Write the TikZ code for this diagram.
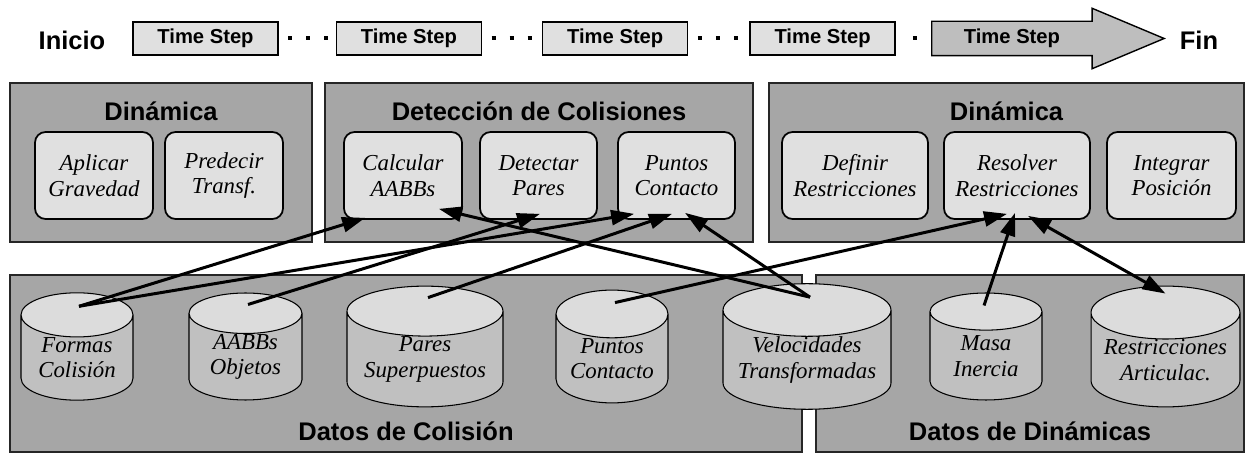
\documentclass[tikz,border=0pt]{standalone}
\usepackage{fontspec}
\setmainfont{Liberation Serif}
\setsansfont{Liberation Sans}
\usetikzlibrary{
  positioning,
  shapes.geometric,
  arrows.meta,
  backgrounds,
  calc
}
\definecolor{panelGray}{HTML}{A6A6A6}
\definecolor{boxGray}{HTML}{E0E0E0}
\definecolor{cylBody}{HTML}{C0C0C0}
\definecolor{cylTop}{HTML}{DCDCDC}
\definecolor{arrowGray}{HTML}{BEBEBE}
\definecolor{edgeDark}{HTML}{262626}
\tikzset{
  titleText/.style={
    font=\sffamily\bfseries\fontsize{14.5}{16}\selectfont, inner sep=0pt
  },
  panel/.style={
    draw=edgeDark, fill=panelGray, line width=0.7pt, inner sep=0pt
  },
  taskBox/.style={
    draw=black, fill=boxGray, rounded corners=6pt, line width=1pt,
    minimum height=1.74cm, align=center, inner sep=0pt,
    font=\itshape\fontsize{13}{14.5}\selectfont
  },
  dataCyl/.style={
    cylinder, shape border rotate=90, draw=black, anchor=shape center,
    line width=0.6pt, cylinder uses custom fill,
    cylinder body fill=cylBody, cylinder end fill=cylTop,
    minimum height=2.14cm, align=center, inner sep=0pt,
    font=\itshape\fontsize{13}{14.5}\selectfont
  },
  stepBox/.style={
    draw=black, fill=boxGray, line width=0.8pt, minimum width=2.9cm,
    minimum height=0.66cm, inner sep=0pt,
    font=\sffamily\bfseries\fontsize{11.5}{13}\selectfont
  },
  stepArrow/.style={
    draw=black, fill=arrowGray, line width=0.8pt, line join=miter
  },
  stepDots/.style={
    line width=0.08cm, dash pattern=on 0.08cm off 0.28cm, dash phase=0.17cm
  },
  flow/.style={
    -{Triangle[length=0.46cm,width=0.3cm]}, line width=0.06cm
  },
  flowBoth/.style={
    {Triangle[length=0.46cm,width=0.3cm]}-{Triangle[length=0.46cm,width=0.3cm]},
    line width=0.06cm
  }
}

\begin{document}
\begin{tikzpicture}[x=0.02cm, y=0.02cm]
\useasboundingbox (0,0) rectangle (1254,453);

% ── TIME LINE ───────────────────────────────────────────────────────
\node[titleText] (inicio) at (72,413) {Inicio};
\node[stepBox] (ts1) at (205.5,414.5) {Time Step};
\node[stepBox, right=1.14cm of ts1] (ts2) {Time Step};
\node[stepBox, right=1.2cm of ts2]  (ts3) {Time Step};
\node[stepBox, right=1.22cm of ts3] (ts4) {Time Step};
\node[stepBox, draw=none, fill=none, minimum width=3.18cm,
      right=0.72cm of ts4] (ts5) {Time Step};
\node[titleText] (fin) at (1199,413) {Fin};

% last step drawn as a big arrow
\begin{scope}[on background layer]
  \draw[stepArrow] (ts5.south west) -- (ts5.north west) -- (ts5.north east)
    -- ++(0,13) -- ($(ts5.east)+(72,0)$) -- ($(ts5.south east)+(0,-13)$)
    -- (ts5.south east) -- cycle;
\end{scope}

\draw[stepDots] (ts1.east) -- (ts2.west);
\draw[stepDots] (ts2.east) -- (ts3.west);
\draw[stepDots] (ts3.east) -- (ts4.west);
\draw[stepDots, dash pattern=on 0.08cm off 0.6cm, dash phase=0.34cm]
  (ts4.east) -- (ts5.west);

% ── PANELS ──────────────────────────────────────────────────────────
\node[panel, minimum width=6.04cm, minimum height=3.18cm] (dyn1) at (161,290.5) {};
\node[panel, minimum width=8.56cm, minimum height=3.18cm] (coll) at (539,290.5) {};
\node[panel, minimum width=9.5cm,  minimum height=3.18cm] (dyn2) at (1006.5,290.5) {};
\node[panel, minimum width=15.84cm, minimum height=3.54cm] (collData) at (406,89.5) {};
\node[panel, minimum width=8.56cm, minimum height=3.54cm] (dynData) at (1030,89.5) {};

\node[titleText] (dyn1Title) at ($(dyn1.north)+(0,-29)$) {Dinámica};
\node[titleText] (collTitle) at ($(coll.north)+(0,-29)$) {Detección de Colisiones};
\node[titleText] (dyn2Title) at ($(dyn2.north)+(0,-29)$) {Dinámica};
\node[titleText] (collDataTitle) at ($(collData.south)+(0,21)$) {Datos de Colisión};
\node[titleText] (dynDataTitle) at ($(dynData.south)+(0,21)$) {Datos de Dinámicas};

% ── TASKS ───────────────────────────────────────────────────────────
\node[taskBox, minimum width=2.36cm] (gravity)  at (94,277.5)    {Aplicar\\Gravedad};
\node[taskBox, minimum width=2.36cm] (predict)  at (224,277.5)   {Predecir\\Transf.};
\node[taskBox, minimum width=2.36cm] (calc)     at (403,277.5)   {Calcular\\AABBs};
\node[taskBox, minimum width=2.34cm] (detect)   at (538.5,277.5) {Detectar\\Pares};
\node[taskBox, minimum width=2.34cm] (contact)  at (676.5,277.5) {Puntos\\Contacto};
\node[taskBox, minimum width=2.92cm] (defRes)   at (855,277.5)   {Definir\\Restricciones};
\node[taskBox, minimum width=2.92cm] (solveRes) at (1017,277.5)  {Resolver\\Restricciones};
\node[taskBox, minimum width=2.58cm] (integ)    at (1171.5,277.5) {Integrar\\Posición};

% ── DATA ────────────────────────────────────────────────────────────
% aspect ~ 64/width so every cap has the same depth
\node[dataCyl, minimum width=2.24cm, aspect=0.57] (shapes) at (77,106.5)     {Formas\\Colisión};
\node[dataCyl, minimum width=2.26cm, aspect=0.57] (aabbs)  at (245.5,106.5)  {AABBs\\Objetos};
\node[dataCyl, minimum width=3.12cm, aspect=0.41] (pairs)  at (425,106.5)    {Pares\\Superpuestos};
\node[dataCyl, minimum width=2.24cm, aspect=0.57] (points) at (612,106.5)    {Puntos\\Contacto};
\node[dataCyl, minimum width=3.36cm, aspect=0.38] (veloc)  at (807,106.5)    {Velocidades\\Transformadas};
\node[dataCyl, minimum width=2.24cm, aspect=0.57] (mass)   at (986,106.5)    {Masa\\Inercia};
\node[dataCyl, minimum width=2.98cm, aspect=0.43] (joints) at (1165.5,106.5) {Restricciones\\Articulac.};

% ── EDGES ───────────────────────────────────────────────────────────
\draw[flow] ($(shapes.north)+(2,-14)$) -- ($(calc.south west)+(22,2)$);
\draw[flow] ($(shapes.north)+(2,-14)$) -- ($(contact.south west)+(17,6)$);
\draw[flow] ($(aabbs.north)+(2.5,-12)$) -- ($(detect.south)+(1.5,6)$);
\draw[flow] ($(pairs.north)+(3,-12)$) -- ($(contact.south)+(-4.5,6)$);
\draw[flow] ($(veloc.north)+(3,-14)$) -- ($(calc.south east)+(-24,11)$);
\draw[flow] ($(veloc.north)+(3,-14)$) -- ($(contact.south)+(8.5,7)$);
\draw[flow] ($(points.north)+(3,-13)$) -- ($(solveRes.south)+(-10,6)$);
\draw[flow] ($(mass.north)+(-2,-13)$) -- ($(solveRes.south)+(-2,7)$);
\draw[flowBoth] ($(solveRes.south)+(11,4)$) -- ($(joints.north)+(0,-8)$);

\end{tikzpicture}
\end{document}
